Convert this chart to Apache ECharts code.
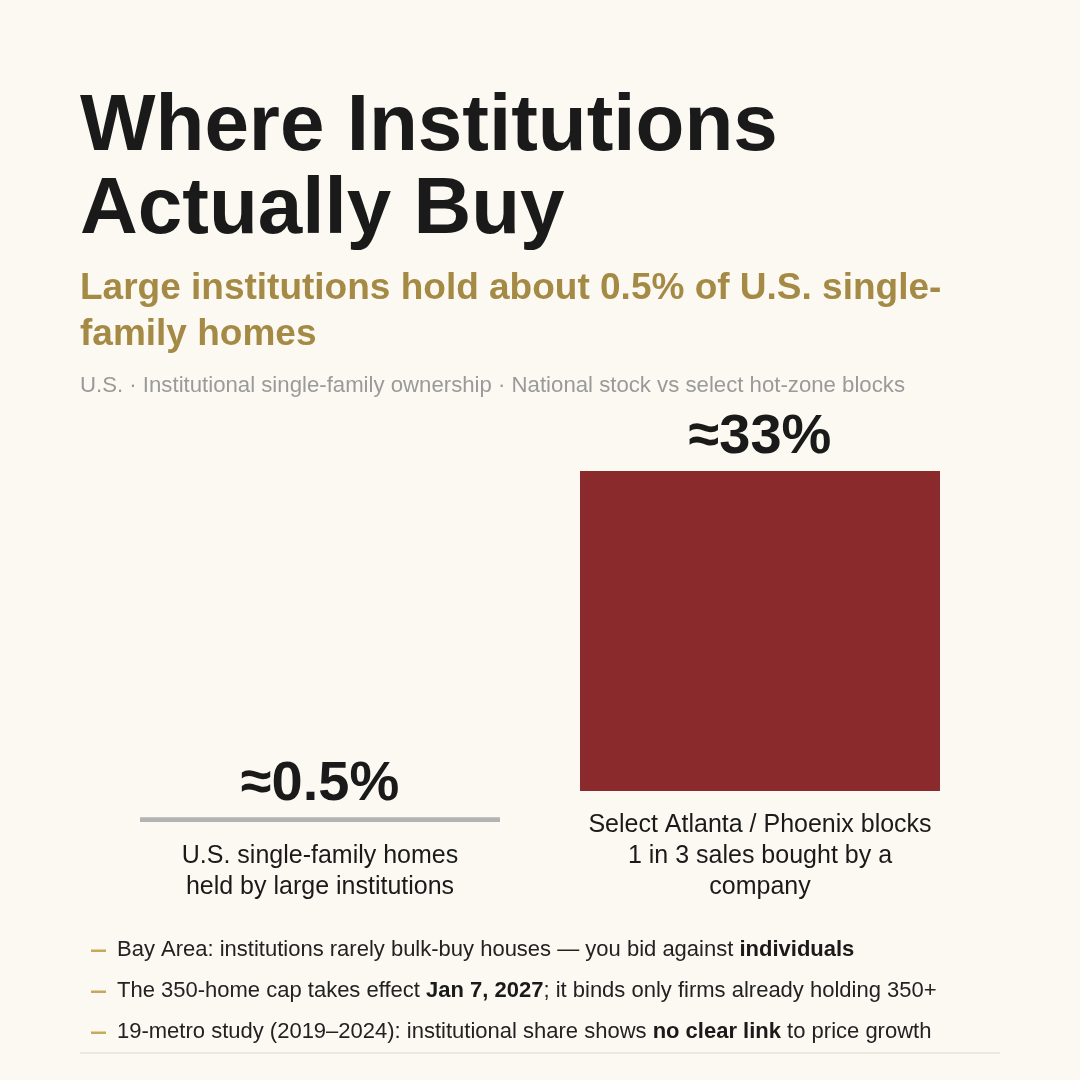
<!DOCTYPE html>
<html>
<head>
<meta charset="utf-8">
<script src="https://cdn.jsdelivr.net/npm/echarts@6/dist/echarts.min.js"></script>
<style>
  html, body { margin: 0; padding: 0; background: #fcf9f2; }
  #chart { width: 1080px; height: 1080px; }
</style>
</head>
<body>
<div id="chart"></div>
<script>
const categories = [
  'U.S. single-family homes\nheld by large institutions',
  'Select Atlanta / Phoenix blocks\n1 in 3 sales bought by a\ncompany'
]
const shares = [0.5, 33]
const valueLabels = ['≈0.5%', '≈33%']
const barColors = ['#b3b3b3', '#8a2a2c']
const notes = [
  ['Bay Area: institutions rarely bulk-buy houses — you bid against ', 'individuals', ''],
  ['The 350-home cap takes effect ', 'Jan 7, 2027', '; it binds only firms already holding 350+'],
  ['19-metro study (2019–2024): institutional share shows ', 'no clear link', ' to price growth']
]

const font = '"Liberation Sans", Arial, Helvetica, sans-serif'
const chart = echarts.init(document.getElementById('chart'))

// columns are bottom-aligned on their captions, so bar baselines differ
const grids = [
  { left: 140, width: 360, top: 502, height: 320 },
  { left: 580, width: 360, top: 471, height: 320 }
]

const noteGraphics = []
notes.forEach((n, i) => {
  const y = 939 + i * 41
  noteGraphics.push({
    type: 'rect',
    shape: { x: 91, y: y + 10.5, width: 15, height: 2.5 },
    style: { fill: '#c9a85c' }
  })
  noteGraphics.push({
    type: 'text',
    left: 117,
    top: y,
    style: {
      text: (n[0] ? '{t|' + n[0] + '}' : '') + '{b|' + n[1] + '}' + (n[2] ? '{t|' + n[2] + '}' : ''),
      font: '22px ' + font,
      rich: {
        t: { fill: '#222222', fontSize: 22, fontFamily: font },
        b: { fill: '#1a1a1a', fontSize: 22, fontFamily: font, fontWeight: 'bold' }
      }
    }
  })
})

const option = {
  backgroundColor: '#fcf9f2',
  animation: false,
  grid: grids,
  xAxis: grids.map((g, i) => ({
    type: 'category',
    gridIndex: i,
    data: [categories[i]],
    axisLine: { show: false },
    axisTick: { show: false },
    axisLabel: {
      color: '#1a1a1a',
      fontSize: 25,
      fontFamily: font,
      lineHeight: 31,
      margin: 19,
      align: 'center'
    }
  })),
  yAxis: grids.map((g, i) => ({
    type: 'value',
    gridIndex: i,
    min: 0,
    max: 33,
    show: false
  })),
  series: shares.map((v, i) => ({
    type: 'bar',
    xAxisIndex: i,
    yAxisIndex: i,
    barWidth: '100%',
    data: [v],
    itemStyle: { color: barColors[i] },
    label: {
      show: true,
      position: 'top',
      distance: 5,
      formatter: valueLabels[i],
      color: '#1a1a1a',
      fontSize: 56,
      fontWeight: 'bold',
      fontFamily: font
    }
  })),
  graphic: [
    {
      type: 'text',
      left: 80,
      top: 86,
      style: {
        text: 'Where Institutions\nActually Buy',
        fill: '#1a1a1a',
        font: 'bold 80px ' + font,
        lineHeight: 83
      }
    },
    {
      type: 'text',
      left: 80,
      top: 266,
      style: {
        text: 'Large institutions hold about 0.5% of U.S. single-\nfamily homes',
        fill: '#a58a45',
        font: 'bold 37px ' + font,
        lineHeight: 46
      }
    },
    {
      type: 'text',
      left: 80,
      top: 375,
      style: {
        text: 'U.S. · Institutional single-family ownership · National stock vs select hot-zone blocks',
        fill: '#9a9a9a',
        font: '22.2px ' + font
      }
    },
    ...noteGraphics,
    {
      type: 'line',
      shape: { x1: 80, y1: 1053, x2: 1000, y2: 1053 },
      style: { stroke: '#ddd8ce', lineWidth: 1 }
    }
  ]
}

chart.setOption(option)
window.addEventListener('resize', () => chart.resize())
</script>
</body>
</html>
